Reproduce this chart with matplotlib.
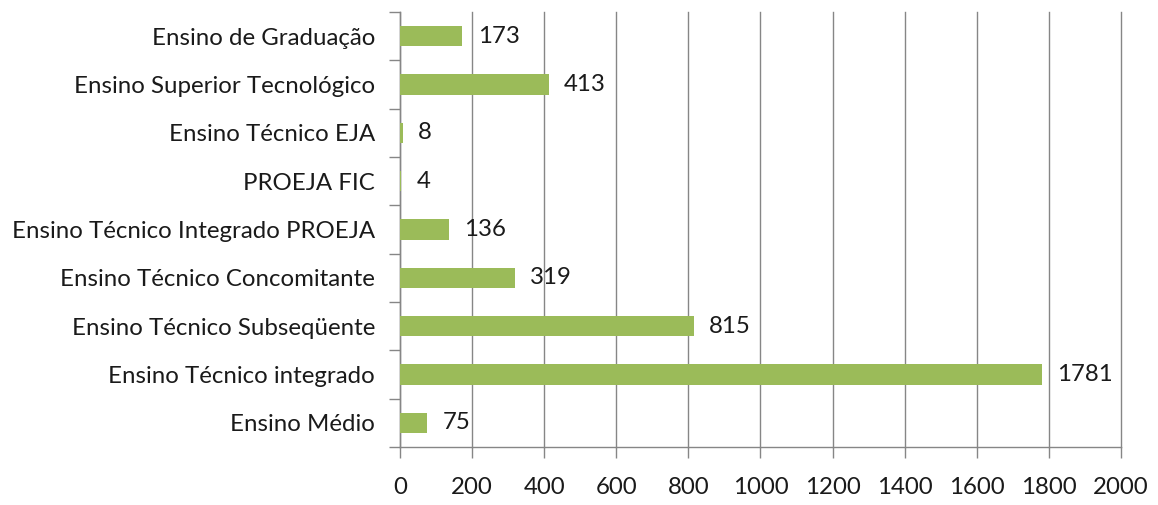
import numpy as np
import matplotlib.pyplot as plt
from matplotlib.ticker import FixedLocator

# dados (de baixo para cima, como no gráfico)
categorias = [
    "Ensino Médio",
    "Ensino Técnico integrado",
    "Ensino Técnico Subseqüente",
    "Ensino Técnico Concomitante",
    "Ensino Técnico Integrado PROEJA",
    "PROEJA FIC",
    "Ensino Técnico EJA",
    "Ensino Superior Tecnológico",
    "Ensino de Graduação",
]
valores = [75, 1781, 815, 319, 136, 4, 8, 413, 173]
xticks = [0, 200, 400, 600, 800, 1000, 1200, 1400, 1600, 1800, 2000]

cor_barra = "#9BBB59"
cor_grade = "#868686"
cor_texto = "#1a1a1a"
fs = 17.3

plt.rcParams['font.family'] = ['Lato', 'DejaVu Sans']

fig = plt.figure(figsize=(11.58, 5.05), dpi=100)
ax = fig.add_axes([0.3454, 0.115, 0.6226, 0.861])

y = np.arange(len(categorias))
ax.barh(y, valores, height=0.42, color=cor_barra, zorder=3)

for yi, v in zip(y, valores):
    ax.annotate(str(v), (v, yi), xytext=(11, 0), textcoords='offset points',
                va='center', ha='left', fontsize=fs, color=cor_texto)

ax.set_xlim(0, 2000)
ax.set_ylim(-0.5, len(categorias) - 0.5)
ax.set_xticks(xticks)
ax.set_xticklabels([str(t) for t in xticks], fontsize=fs, color=cor_texto)
ax.set_yticks(y)
ax.set_yticklabels(categorias, fontsize=fs, color=cor_texto)
ax.tick_params(axis='y', which='major', length=0, pad=18)
ax.yaxis.set_minor_locator(FixedLocator(np.arange(-0.5, len(categorias), 1.0)))
ax.tick_params(axis='y', which='minor', length=8, color=cor_grade, width=1)
ax.tick_params(axis='x', length=8, color=cor_grade, width=1, pad=14)

ax.grid(axis='x', color=cor_grade, linewidth=1, zorder=0)
for gl in ax.get_xgridlines():
    gl.set_clip_on(False)
for s in ['top', 'right']:
    ax.spines[s].set_visible(False)
for s in ['left', 'bottom']:
    ax.spines[s].set_color(cor_grade)
    ax.spines[s].set_linewidth(1)

fig.savefig('out.png', dpi=100)
